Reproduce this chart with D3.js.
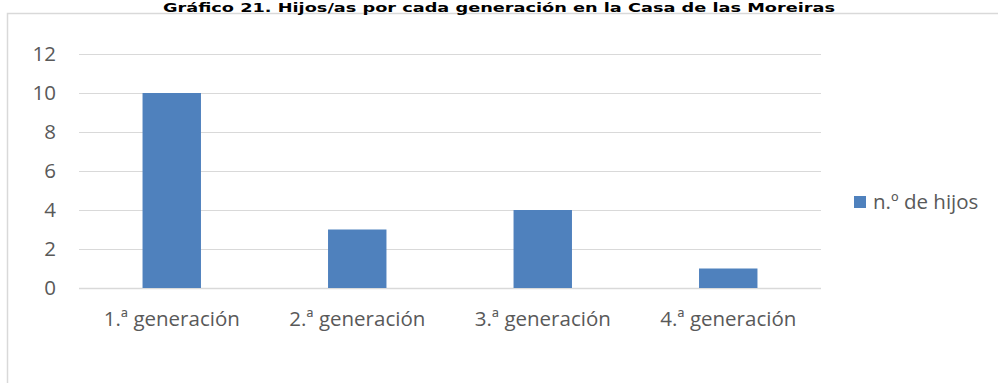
<!DOCTYPE html>
<html>
<head>
<meta charset="utf-8">
<script src="https://cdn.jsdelivr.net/npm/d3@7"></script>
<style>
  html, body { margin: 0; padding: 0; background: #fff; }
  svg { display: block; }
</style>
</head>
<body>
<svg id="chart" width="998" height="383"></svg>
<script>
// Data
const categories = ["1.ª generación", "2.ª generación", "3.ª generación", "4.ª generación"];
const hijos = [10, 3, 4, 1];
const yTicks = [0, 2, 4, 6, 8, 10, 12];
const seriesName = "n.º de hijos";
const titleText = "Gráfico 21. Hijos/as por cada generación en la Casa de las Moreiras";

const svg = d3.select("#chart");
const labelFont = "'Open Sans', Lato, sans-serif";
const labelSize = 20.5;
const textColor = "#595959";
const gridColor = "#d9d9d9";
const barColor = "#4f81bd";

// Chart area frame (runs off the right and bottom edges)
svg.append("rect")
  .attr("x", 7.5).attr("y", 13.5)
  .attr("width", 1100).attr("height", 500)
  .attr("fill", "#fff")
  .attr("stroke", gridColor).attr("stroke-width", 1.5);

// Title
svg.append("text")
  .attr("x", 499).attr("y", 11.5)
  .attr("text-anchor", "middle")
  .attr("font-family", "'DejaVu Sans Condensed', 'DejaVu Sans', sans-serif")
  .attr("font-weight", "bold")
  .attr("font-size", 13)
  .attr("fill", "#000")
  .attr("textLength", 672)
  .attr("lengthAdjust", "spacingAndGlyphs")
  .text(titleText);

// Scales
const plotLeft = 79, plotRight = 821, plotTop = 54, plotBottom = 288;
const x = d3.scaleBand()
  .domain(categories)
  .range([plotLeft, plotRight])
  .paddingInner(0.685)
  .paddingOuter(0.3425);
const y = d3.scaleLinear()
  .domain([0, 12])
  .range([plotBottom, plotTop]);

// Gridlines
svg.append("g")
  .selectAll("line")
  .data(yTicks)
  .join("line")
  .attr("x1", plotLeft).attr("x2", plotRight)
  .attr("y1", d => Math.round(y(d)) + 0.5)
  .attr("y2", d => Math.round(y(d)) + 0.5)
  .attr("stroke", gridColor)
  .attr("stroke-width", d => d === 0 ? 1.5 : 1.2);

// Bars
svg.append("g")
  .selectAll("rect")
  .data(hijos)
  .join("rect")
  .attr("x", (d, i) => x(categories[i]))
  .attr("width", x.bandwidth())
  .attr("y", d => y(d))
  .attr("height", d => y(0) - y(d))
  .attr("fill", barColor);

// Y axis labels
const yAxis = d3.axisLeft(y).tickValues(yTicks).tickSize(0).tickPadding(0);
const gy = svg.append("g")
  .attr("transform", `translate(56,0)`)
  .call(yAxis);
gy.select(".domain").remove();
gy.selectAll("text")
  .attr("font-family", labelFont)
  .attr("font-size", labelSize)
  .attr("fill", textColor);

// X axis labels
const xAxis = d3.axisBottom(x).tickSize(0).tickPadding(0);
const gx = svg.append("g")
  .attr("transform", `translate(0,${plotBottom})`)
  .call(xAxis);
gx.select(".domain").remove();
gx.selectAll("text")
  .attr("dy", null)
  .attr("y", 38)
  .attr("font-family", labelFont)
  .attr("font-size", labelSize)
  .attr("fill", textColor);

// Legend
const legend = svg.append("g").attr("transform", "translate(854,196)");
legend.append("rect")
  .attr("width", 12).attr("height", 12)
  .attr("fill", barColor);
legend.append("text")
  .attr("x", 19).attr("y", 13)
  .attr("font-family", labelFont)
  .attr("font-size", labelSize)
  .attr("fill", textColor)
  .text(seriesName);
</script>
</body>
</html>
